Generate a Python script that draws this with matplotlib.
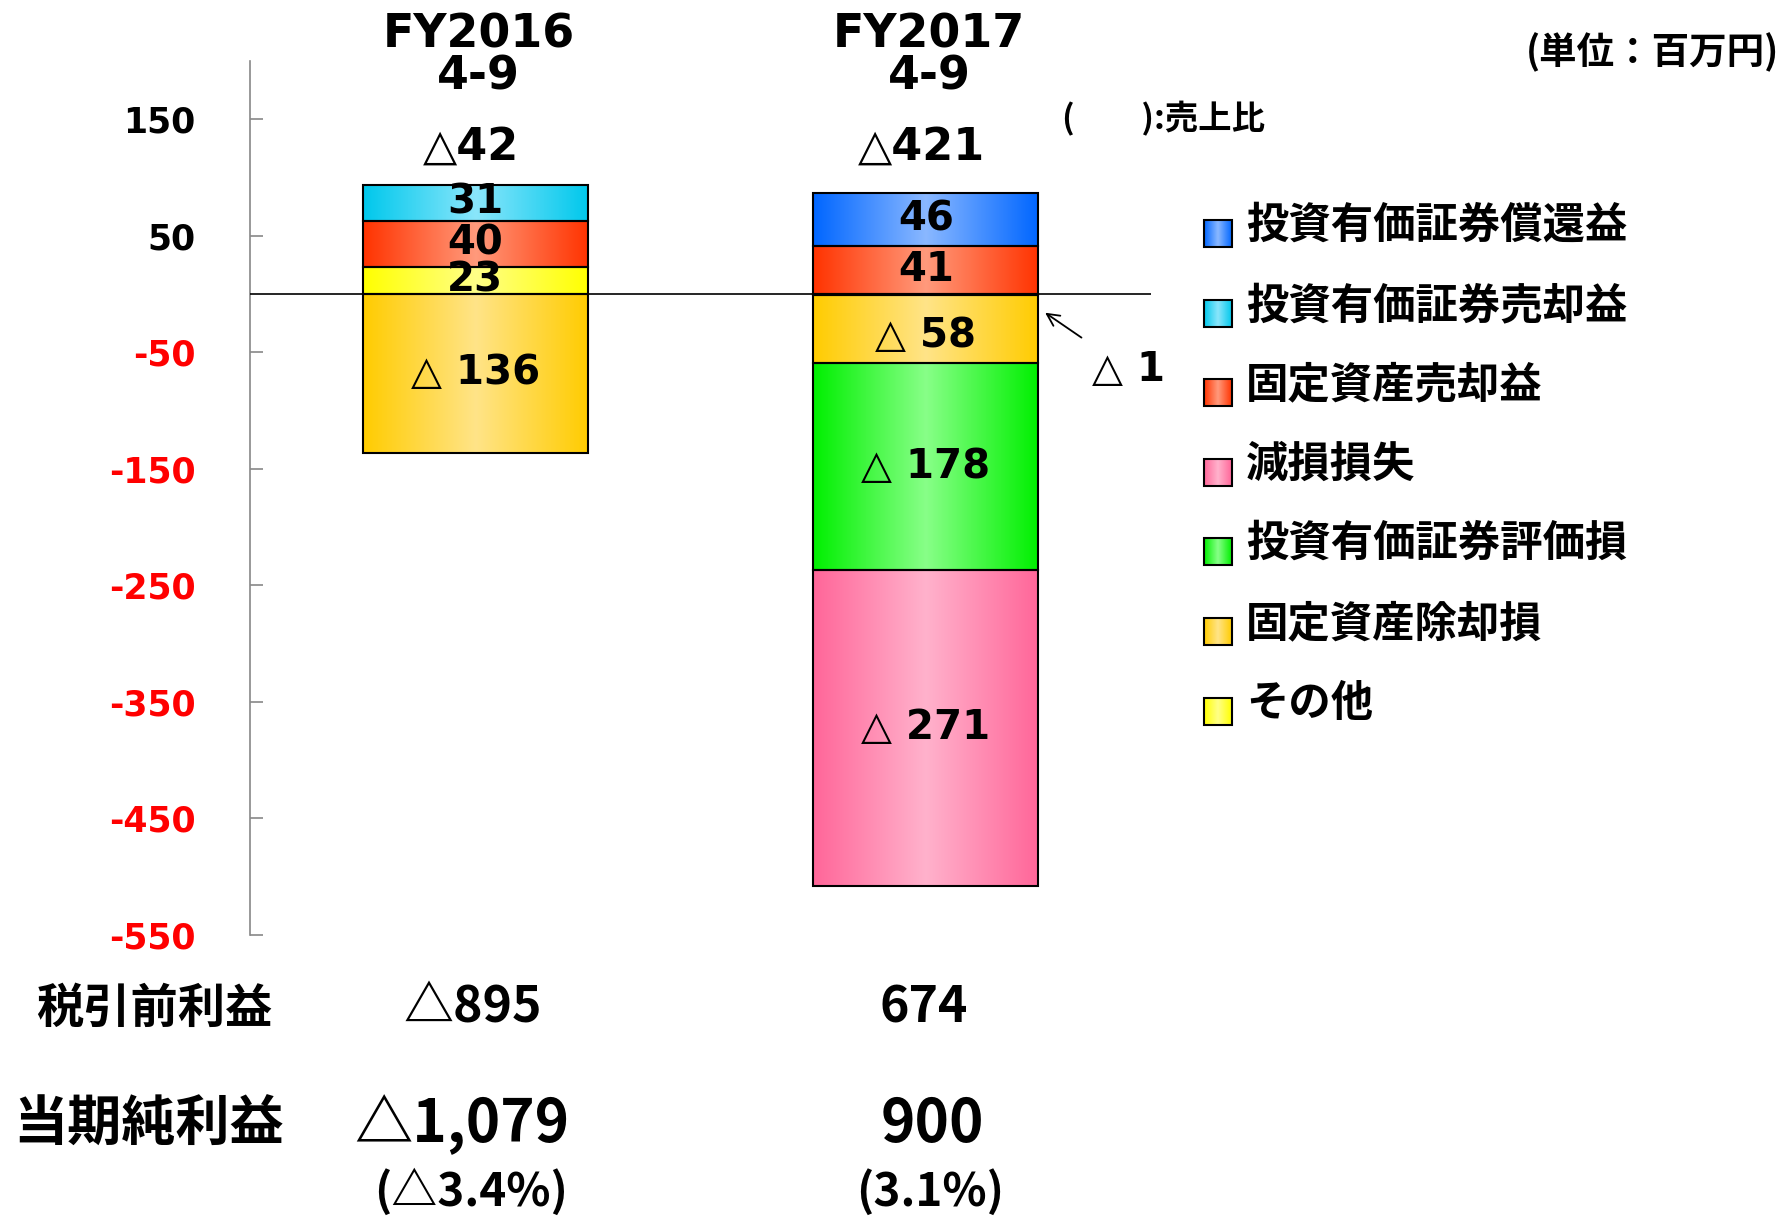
import numpy as np
import matplotlib.pyplot as plt
from matplotlib.colors import LinearSegmentedColormap

plt.rcParams['font.family'] = ['DejaVu Sans', 'Noto Sans CJK JP']
JP = ['Noto Sans CJK JP', 'DejaVu Sans']

# ---- data (百万円) ----
periods = ['FY2016\n4-9', 'FY2017\n4-9']
categories = ['投資有価証券償還益', '投資有価証券売却益', '固定資産売却益',
              '減損損失', '投資有価証券評価損', '固定資産除却損', 'その他']
redemption_gain = [0, 46]
sec_sale_gain = [31, 0]
fixed_sale_gain = [40, 41]
impairment = [0, -271]
sec_valuation_loss = [0, -178]
fixed_disposal_loss = [-136, -58]
other = [23, -1]
totals = [-42, -421]
pretax_profit = [-895, 674]
net_profit = [-1079, 900]
net_margin = [-3.4, 3.1]
yticks = [150, 50, -50, -150, -250, -350, -450, -550]

series = {
    '投資有価証券償還益': redemption_gain,
    '投資有価証券売却益': sec_sale_gain,
    '固定資産売却益': fixed_sale_gain,
    '減損損失': impairment,
    '投資有価証券評価損': sec_valuation_loss,
    '固定資産除却損': fixed_disposal_loss,
    'その他': other,
}
# (edge colour, centre colour) of the horizontal gradient
colors = {
    '投資有価証券償還益': ('#0066ff', '#8ab8ff'),
    '投資有価証券売却益': ('#00c8ec', '#8ae6fb'),
    '固定資産売却益': ('#ff3300', '#ff9a7c'),
    '減損損失': ('#ff6699', '#ffb2cc'),
    '投資有価証券評価損': ('#00f000', '#88ff88'),
    '固定資産除却損': ('#ffcc00', '#ffe488'),
    'その他': ('#ffff00', '#ffff88'),
}
# stacking order, nearest to zero first
stack_order = ['その他', '固定資産売却益', '投資有価証券売却益', '投資有価証券償還益',
               '固定資産除却損', '投資有価証券評価損', '減損損失']


def tri(v, space=''):
    return ('△' + space if v < 0 else '') + f'{abs(v):,}'


def gradient_fill(ax, patch, edge, centre, z=2):
    cmap = LinearSegmentedColormap.from_list('g', [edge, centre, edge])
    x0, y0 = patch.get_x(), patch.get_y()
    w, h = patch.get_width(), patch.get_height()
    im = ax.imshow(np.linspace(0, 1, 256)[None, :], cmap=cmap, aspect='auto',
                   extent=(x0, x0 + w, y0, y0 + h), zorder=z, interpolation='bilinear')
    im.set_clip_path(patch)


fig = plt.figure(figsize=(17.83, 12.17), dpi=100)
ax = fig.add_axes([250 / 1783, 1 - 935 / 1217, 901 / 1783, 874 / 1217])

x = np.arange(len(periods))
width = 0.5
pos_base = np.zeros(len(periods))
neg_base = np.zeros(len(periods))
small_segments = []
for cat in stack_order:
    vals = np.array(series[cat], dtype=float)
    for i, v in enumerate(vals):
        if v == 0:
            continue
        base = pos_base[i] if v > 0 else neg_base[i]
        bar = ax.bar(x[i], v, width, bottom=base, facecolor='none',
                     edgecolor='black', linewidth=1.5, zorder=3)[0]
        gradient_fill(ax, bar, *colors[cat])
        if abs(v) < 5:
            small_segments.append((i, base, v))
        else:
            off = -6 if cat == '固定資産除却損' and i == 1 else 0
            ax.text(x[i], base + v / 2 + off, tri(int(v), ' '), ha='center', va='center',
                    fontsize=29, fontweight='bold', zorder=5)
        if v > 0:
            pos_base[i] += v
        else:
            neg_base[i] += v

for i, base, v in small_segments:
    ax.annotate(tri(int(v), ' '), xy=(x[i] + width / 2 + 0.015, base - 16),
                xytext=(x[i] + 0.45, base - 65), ha='center', va='center',
                fontsize=29, fontweight='bold',
                arrowprops=dict(arrowstyle='->', lw=1.3, color='black',
                                shrinkA=12, shrinkB=0, mutation_scale=22))

for i, t in enumerate(totals):
    ax.text(x[i] - 0.01, 126, tri(t), ha='center', va='center', fontsize=32, fontweight='bold')
    ax.text(x[i] + 0.008, 204, periods[i], ha='center', va='center', fontsize=33,
            fontweight='bold', linespacing=0.92, clip_on=False)

ax.axhline(0, color='black', lw=1.2, zorder=4)
ax.set_xlim(-0.5, 1.5)
ax.set_ylim(-550, 200)
ax.set_xticks([])
ax.set_yticks(yticks)
ax.set_yticklabels([str(t) for t in yticks], fontsize=25, fontweight='bold')
for lab, t in zip(ax.get_yticklabels(), yticks):
    lab.set_color('black' if t > 0 else '#ff0000')
ax.tick_params(axis='y', direction='in', length=9, width=1.2, color='#888888', pad=39)
for s in ['top', 'right', 'bottom']:
    ax.spines[s].set_visible(False)
ax.spines['left'].set_color('#888888')
ax.spines['left'].set_linewidth(1.2)
ax.patch.set_visible(False)

# rows below the chart
ax.text(-0.712, -613, '税引前利益', ha='center', va='center', fontsize=34,
        fontweight='bold', family=JP, clip_on=False)
ax.text(-0.725, -713, '当期純利益', ha='center', va='center', fontsize=39,
        fontweight='bold', family=JP, clip_on=False)
for i in range(len(periods)):
    ax.text(x[i] - 0.005, -613, tri(pretax_profit[i]), ha='center', va='center',
            fontsize=36, fontweight='bold', family=JP, clip_on=False)
    ax.text(x[i] - 0.03 if i == 0 else x[i] + 0.015, -713, tri(net_profit[i]),
            ha='center', va='center', fontsize=42, fontweight='bold', family=JP, clip_on=False)
    m = net_margin[i]
    ax.text(x[i] - 0.01 if i == 0 else x[i] + 0.01, -771,
            '(' + ('△' if m < 0 else '') + f'{abs(m):.1f}%)',
            ha='center', va='center', fontsize=33, fontweight='bold', family=JP, clip_on=False)

# overlay in pixel coordinates for the legend and notes
lax = fig.add_axes([0, 0, 1, 1])
lax.axis('off')
legend_y = [233, 313, 392, 472, 551, 631, 711]
for cat, yc in zip(categories, legend_y):
    sq = lax.bar(1218.5, 27, 28, bottom=yc - 13.5, facecolor='none',
                 edgecolor='black', linewidth=1.5, zorder=3)[0]
    gradient_fill(lax, sq, *colors[cat])
    lax.text(1246, yc - 7, cat, ha='left', va='center', fontsize=30.5,
             fontweight='bold', family=JP)
lax.text(1779, 52, '(単位：百万円)', ha='right', va='center', fontsize=27,
         fontweight='bold', family=JP)
lax.text(1062, 119, '(\u3000\u3000):売上比', ha='left', va='center', fontsize=24,
         fontweight='bold', family=JP)
lax.set_xlim(0, 1783)
lax.set_ylim(1217, 0)

fig.savefig('out.png', dpi=100)
